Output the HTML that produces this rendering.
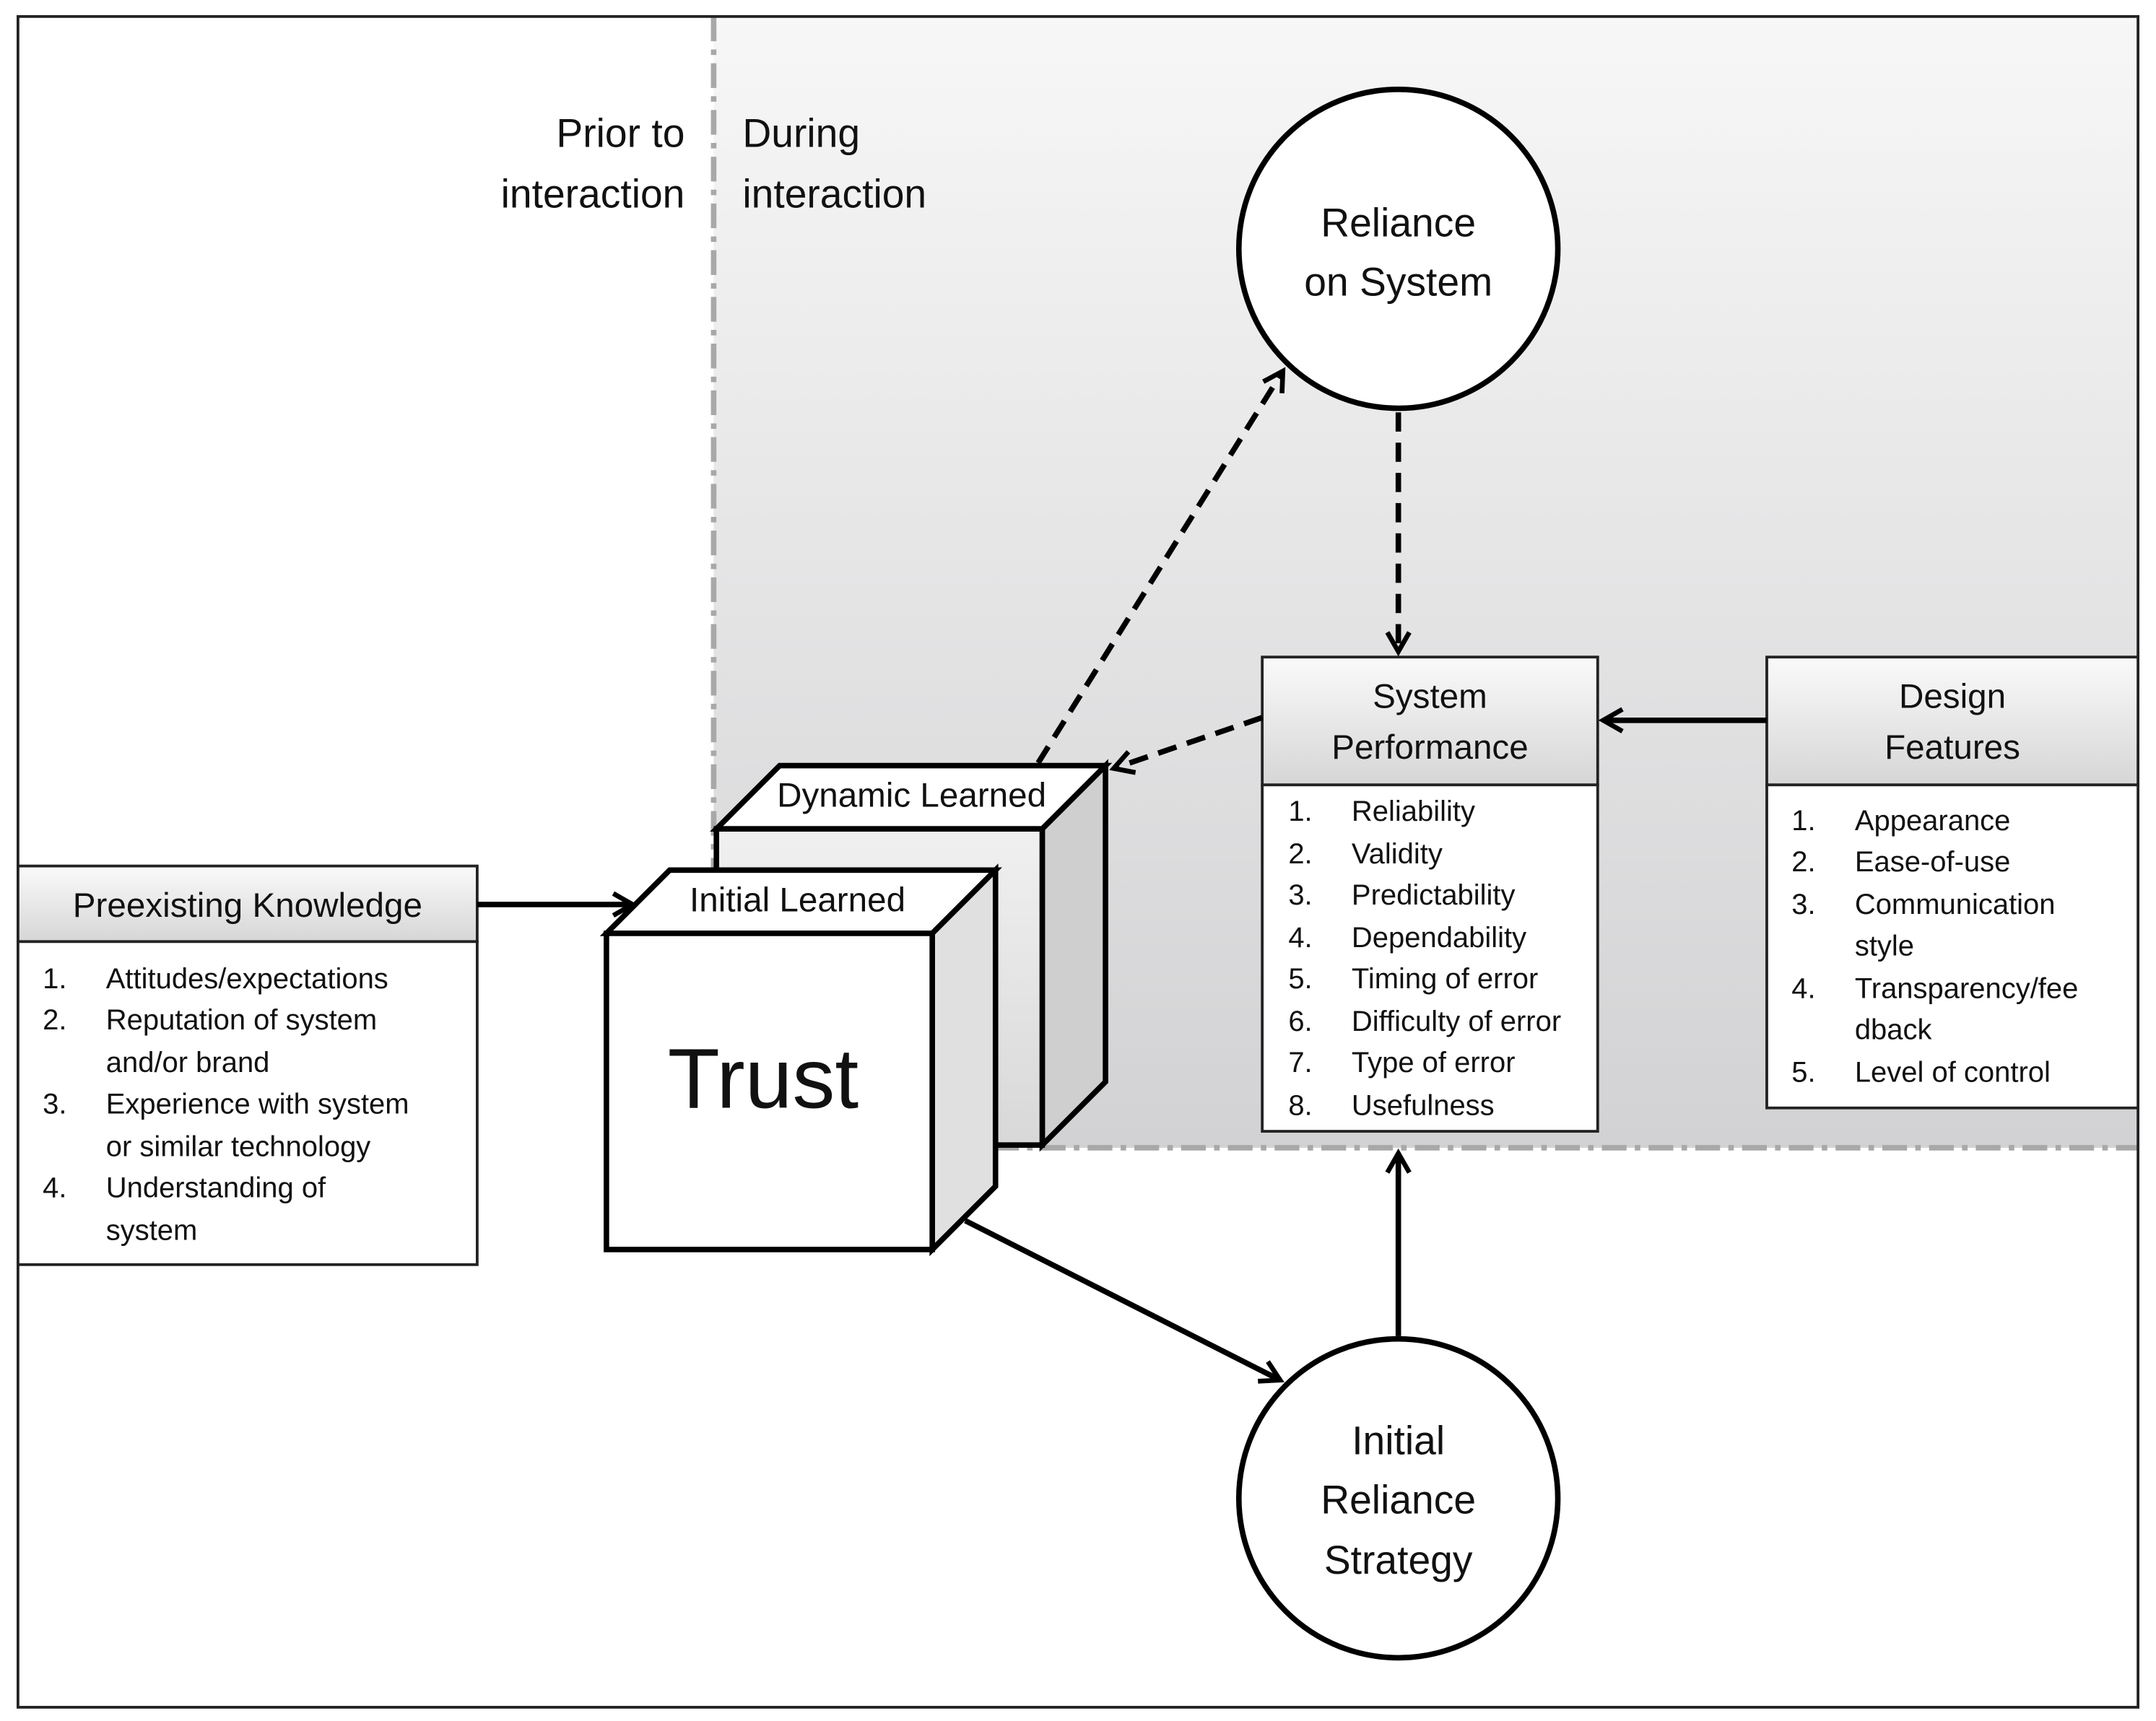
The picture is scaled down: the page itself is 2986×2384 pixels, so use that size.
<!DOCTYPE html>
<html><head><meta charset="utf-8"><style>html,body{margin:0;padding:0;background:#fff}svg{display:block}text{font-family:"Liberation Sans",sans-serif;fill:#111}</style></head>
<body>
<svg width="2986" height="2384" viewBox="0 0 1568 1252" xmlns="http://www.w3.org/2000/svg">
<defs>
<linearGradient id="bg" x1="0" y1="0" x2="0" y2="1"><stop offset="0" stop-color="#f7f7f7"/><stop offset="1" stop-color="#d2d2d4"/></linearGradient>
<linearGradient id="hd" x1="0" y1="0" x2="0" y2="1"><stop offset="0" stop-color="#fafafa"/><stop offset="1" stop-color="#d6d6d6"/></linearGradient>
<linearGradient id="cb" x1="0" y1="0" x2="0" y2="1"><stop offset="0" stop-color="#f0f0f0"/><stop offset="1" stop-color="#d8d8d8"/></linearGradient>
<marker id="ah" viewBox="0 0 20 20" refX="16" refY="10" markerWidth="5" markerHeight="5" orient="auto" markerUnits="strokeWidth"><path d="M2,2 L16,10 L2,18" fill="none" stroke="#000" stroke-width="3.5"/></marker>
</defs>
<rect x="0" y="0" width="1568" height="1252" fill="#fff"/>
<rect x="519" y="12" width="1036" height="823" fill="url(#bg)"/>
<line x1="519" y1="12" x2="519" y2="835" stroke="#a8a8a8" stroke-width="4" stroke-dasharray="18,6,4,6"/>
<line x1="519" y1="835" x2="1555" y2="835" stroke="#a8a8a8" stroke-width="4" stroke-dasharray="18,6,4,6"/>
<rect x="13" y="12" width="1542" height="1230" fill="none" stroke="#222" stroke-width="2"/>

<g font-size="29">
<text x="498" y="107" text-anchor="end">Prior to</text>
<text x="498" y="151" text-anchor="end">interaction</text>
<text x="540" y="107">During</text>
<text x="540" y="151">interaction</text>
</g>

<!-- circles -->
<circle cx="1017" cy="181" r="116" fill="#fff" stroke="#000" stroke-width="4"/>
<text x="1017" y="172" font-size="29" text-anchor="middle">Reliance</text>
<text x="1017" y="215" font-size="29" text-anchor="middle">on System</text>
<circle cx="1017" cy="1090" r="116" fill="#fff" stroke="#000" stroke-width="4"/>
<text x="1017" y="1058" font-size="29" text-anchor="middle">Initial</text>
<text x="1017" y="1101" font-size="29" text-anchor="middle">Reliance</text>
<text x="1017" y="1145" font-size="29" text-anchor="middle">Strategy</text>

<!-- System performance -->
<rect x="918" y="478" width="244" height="93" fill="url(#hd)" stroke="#222" stroke-width="2"/>
<rect x="918" y="571" width="244" height="252" fill="#fff" stroke="#222" stroke-width="2"/>
<text x="1040" y="515" font-size="25" text-anchor="middle">System</text>
<text x="1040" y="552" font-size="25" text-anchor="middle">Performance</text>
<g font-size="21">
<text x="937" y="597">1.</text><text x="983" y="597">Reliability</text>
<text x="937" y="628">2.</text><text x="983" y="628">Validity</text>
<text x="937" y="658">3.</text><text x="983" y="658">Predictability</text>
<text x="937" y="689">4.</text><text x="983" y="689">Dependability</text>
<text x="937" y="719">5.</text><text x="983" y="719">Timing of error</text>
<text x="937" y="750">6.</text><text x="983" y="750">Difficulty of error</text>
<text x="937" y="780">7.</text><text x="983" y="780">Type of error</text>
<text x="937" y="811">8.</text><text x="983" y="811">Usefulness</text>
</g>

<!-- Design features -->
<rect x="1285" y="478" width="270" height="93" fill="url(#hd)" stroke="#222" stroke-width="2"/>
<rect x="1285" y="571" width="270" height="235" fill="#fff" stroke="#222" stroke-width="2"/>
<text x="1420" y="515" font-size="25" text-anchor="middle">Design</text>
<text x="1420" y="552" font-size="25" text-anchor="middle">Features</text>
<g font-size="21">
<text x="1303" y="604">1.</text><text x="1349" y="604">Appearance</text>
<text x="1303" y="634">2.</text><text x="1349" y="634">Ease-of-use</text>
<text x="1303" y="665">3.</text><text x="1349" y="665">Communication</text>
<text x="1349" y="695">style</text>
<text x="1303" y="726">4.</text><text x="1349" y="726">Transparency/fee</text>
<text x="1349" y="756">dback</text>
<text x="1303" y="787">5.</text><text x="1349" y="787">Level of control</text>
</g>

<!-- Preexisting -->
<rect x="13" y="630" width="334" height="55" fill="url(#hd)" stroke="#222" stroke-width="2"/>
<rect x="13" y="685" width="334" height="235" fill="#fff" stroke="#222" stroke-width="2"/>
<text x="180" y="667" font-size="25" text-anchor="middle">Preexisting Knowledge</text>
<g font-size="21">
<text x="31" y="719">1.</text><text x="77" y="719">Attitudes/expectations</text>
<text x="31" y="749">2.</text><text x="77" y="749">Reputation of system</text>
<text x="77" y="780">and/or brand</text>
<text x="31" y="810">3.</text><text x="77" y="810">Experience with system</text>
<text x="77" y="841">or similar technology</text>
<text x="31" y="871">4.</text><text x="77" y="871">Understanding of</text>
<text x="77" y="902">system</text>
</g>

<!-- back cube -->
<g stroke="#000" stroke-width="4" stroke-linejoin="miter">
<polygon points="521,603 567,557 804,557 758,603" fill="#fff"/>
<polygon points="758,603 804,557 804,787 758,833" fill="#cfcfcf"/>
<rect x="521" y="603" width="237" height="230" fill="url(#cb)"/>
</g>
<text x="663" y="587" font-size="25" text-anchor="middle">Dynamic Learned</text>
<!-- front cube -->
<g stroke="#000" stroke-width="4">
<polygon points="441,679 487,633 724,633 678,679" fill="#fff"/>
<polygon points="678,679 724,633 724,863 678,909" fill="#e0e0e0"/>
<rect x="441" y="679" width="237" height="230" fill="#fff"/>
</g>
<text x="580" y="663" font-size="25" text-anchor="middle">Initial Learned</text>
<text x="555" y="806" font-size="62" text-anchor="middle">Trust</text>

<!-- arrows -->
<g stroke="#000" stroke-width="4" fill="none">
<line x1="347" y1="658" x2="460" y2="658" marker-end="url(#ah)"/>
<line x1="755" y1="555" x2="933" y2="270" stroke-dasharray="14,8" marker-end="url(#ah)"/>
<line x1="1017" y1="300" x2="1017" y2="474" stroke-dasharray="14,8" marker-end="url(#ah)"/>
<line x1="918" y1="522" x2="810" y2="559" stroke-dasharray="14,8" marker-end="url(#ah)"/>
<line x1="1285" y1="524" x2="1166" y2="524" marker-end="url(#ah)"/>
<line x1="702" y1="888" x2="931" y2="1004" marker-end="url(#ah)"/>
<line x1="1017" y1="972" x2="1017" y2="839" marker-end="url(#ah)"/>
</g>
</svg>
</body></html>
